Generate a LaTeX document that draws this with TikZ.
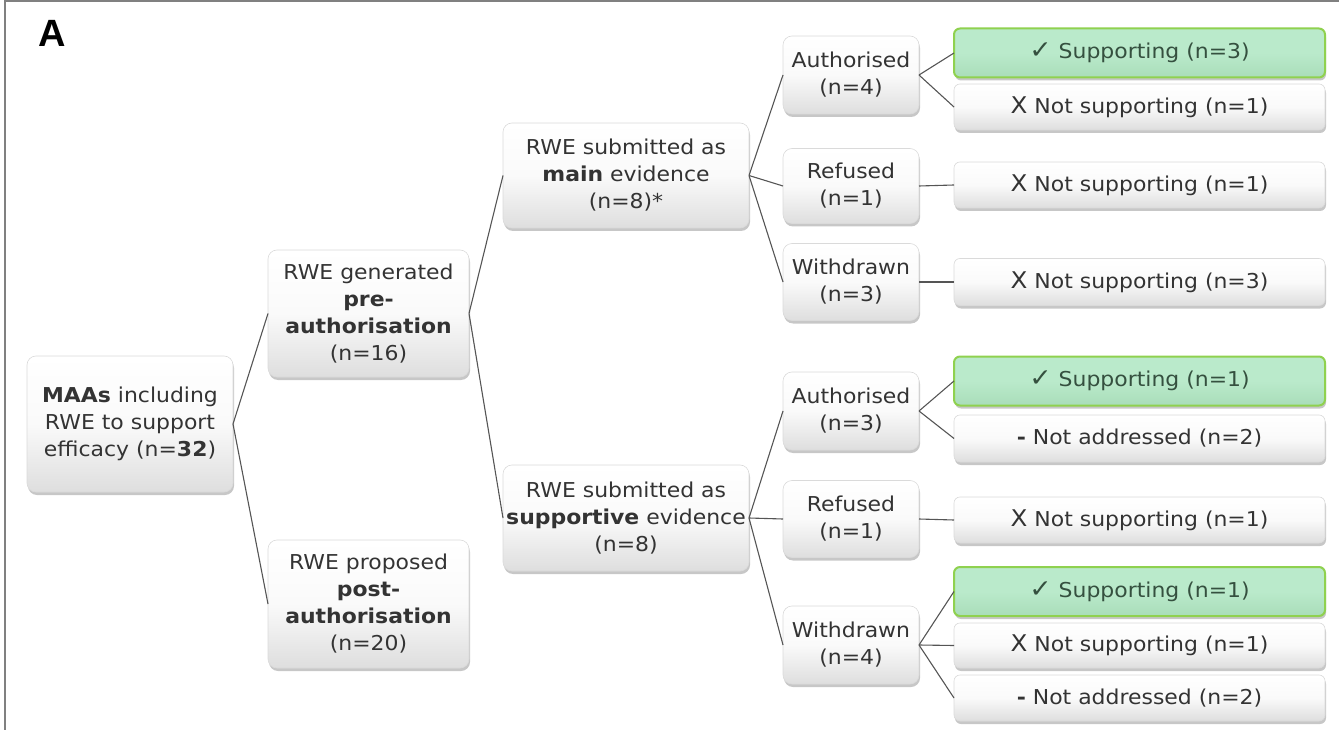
\documentclass[tikz,border=0pt]{standalone}
\usepackage{fontspec}
\setmainfont[FakeStretch=1.07]{DejaVu Sans}
\newfontfamily\panelfont{Liberation Sans}
\usetikzlibrary{shadows}
\definecolor{txt}{HTML}{333333}
\definecolor{gtxt}{HTML}{35503F}
\definecolor{gtop}{HTML}{BAEACB}
\definecolor{gbot}{HTML}{A9DDB9}
\definecolor{gedge}{HTML}{8FD14F}
\definecolor{edge}{HTML}{DADADA}
\definecolor{wire}{HTML}{555555}
\definecolor{frame}{HTML}{808080}
\newcommand{\okmark}{{\fontsize{25}{20}\selectfont ✓}}
\newcommand{\nomark}{{\fontsize{23}{20}\selectfont X}}
\begin{document}
\begin{tikzpicture}[x=1pt,y=-1pt,
  box/.style={draw=edge, line width=0.6pt, rounded corners=9pt,
    top color=white, bottom color=black!13, middle color=black!2,
    text=txt, align=center, inner sep=0pt, outer sep=0pt,
    font=\fontsize{20.5}{27}\selectfont,
    drop shadow={shadow xshift=1pt, shadow yshift=-3pt, opacity=0.22, fill=black}},
  midbox/.style={box, minimum width=136pt, minimum height=78pt},
  leaf/.style={box, minimum width=371pt, minimum height=46pt, rounded corners=6pt},
  goodleaf/.style={leaf, draw=gedge, line width=2pt, top color=gtop, bottom color=gbot,
    middle color=gtop, text=gtxt, minimum height=49pt},
  conn/.style={draw=wire, line width=1.1pt}]
\useasboundingbox (0,0) rectangle (1339,730);

% panel frame and letter
\draw[frame, line width=2pt] (5,730) -- (5,1) -- (1339,1);
\node[font=\panelfont\bfseries\fontsize{38}{38}\selectfont, text=black] (panel) at (52,33) {A};

% first levels
\node[box, minimum width=206pt, minimum height=136pt] (root) at (130,424)
  {\textbf{MAAs} including\\RWE to support\\efficacy (n=\textbf{32})};
\node[box, minimum width=201pt, minimum height=127pt] (pre) at (368.5,313.5)
  {RWE generated\\\textbf{pre-}\\\textbf{authorisation}\\(n=16)};
\node[box, minimum width=201pt, minimum height=128pt] (post) at (368.5,604)
  {RWE proposed\\\textbf{post-}\\\textbf{authorisation}\\(n=20)};
\node[box, minimum width=246pt, minimum height=105pt] (main) at (626,175.5)
  {RWE submitted as\\\textbf{main} evidence\\(n=8)*};
\node[box, minimum width=246pt, minimum height=106pt] (supp) at (626,518)
  {RWE submitted as\\\textbf{supportive} evidence\\(n=8)};

% outcomes
\node[midbox] (au1) at (851,75) {Authorised\\(n=4)};
\node[midbox, minimum height=75pt] (re1) at (851,186) {Refused\\(n=1)};
\node[midbox, minimum height=77pt] (wd1) at (851,282) {Withdrawn\\(n=3)};
\node[midbox] (au2) at (851,411) {Authorised\\(n=3)};
\node[midbox, minimum height=77pt] (re2) at (851,519) {Refused\\(n=1)};
\node[midbox] (wd2) at (851,645) {Withdrawn\\(n=4)};

% assessments
\node[goodleaf] (l1) at (1139.5,53) {\okmark\ Supporting (n=3)};
\node[leaf] (l2) at (1139.5,107) {\nomark\ Not supporting (n=1)};
\node[leaf] (l3) at (1139.5,185) {\nomark\ Not supporting (n=1)};
\node[leaf, minimum height=47pt] (l4) at (1139.5,282) {\nomark\ Not supporting (n=3)};
\node[goodleaf] (l5) at (1139.5,381) {\okmark\ Supporting (n=1)};
\node[leaf, minimum height=47pt] (l6) at (1139.5,438.5) {\textbf{-} Not addressed (n=2)};
\node[leaf] (l7) at (1139.5,520) {\nomark\ Not supporting (n=1)};
\node[goodleaf] (l8) at (1139.5,591.5) {\okmark\ Supporting (n=1)};
\node[leaf, minimum height=45pt] (l9) at (1139.5,645.5) {\nomark\ Not supporting (n=1)};
\node[leaf] (l10) at (1139.5,698) {\textbf{-} Not addressed (n=2)};

% connectors
\draw[conn] (root.east) -- (pre.west);
\draw[conn] (root.east) -- (post.west);
\draw[conn] (pre.east) -- (main.west);
\draw[conn] (pre.east) -- (supp.west);
\draw[conn] (main.east) -- (au1.west);
\draw[conn] (main.east) -- (re1.west);
\draw[conn] (main.east) -- (wd1.west);
\draw[conn] (supp.east) -- (au2.west);
\draw[conn] (supp.east) -- (re2.west);
\draw[conn] (supp.east) -- (wd2.west);
\draw[conn] (au1.east) -- (l1.west);
\draw[conn] (au1.east) -- (l2.west);
\draw[conn] (re1.east) -- (l3.west);
\draw[conn] (wd1.east) -- (l4.west);
\draw[conn] (au2.east) -- (l5.west);
\draw[conn] (au2.east) -- (l6.west);
\draw[conn] (re2.east) -- (l7.west);
\draw[conn] (wd2.east) -- (l8.west);
\draw[conn] (wd2.east) -- (l9.west);
\draw[conn] (wd2.east) -- (l10.west);
\end{tikzpicture}
\end{document}
